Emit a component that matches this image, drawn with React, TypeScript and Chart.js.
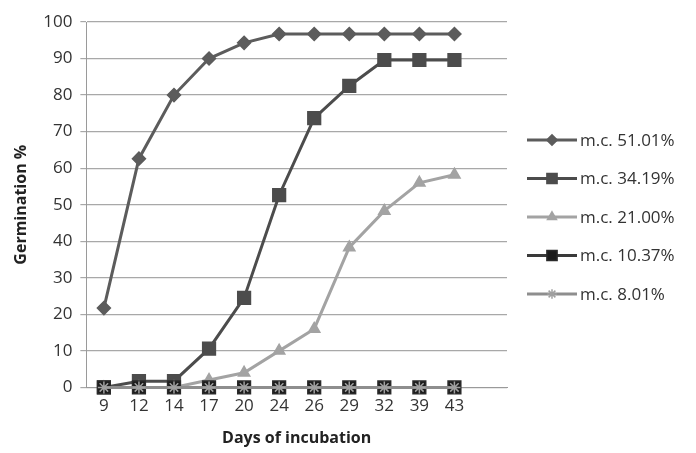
import React, { useEffect, useRef } from "react";
import { Chart, registerables } from "chart.js";
import { drawPoint } from "chart.js/helpers";

Chart.register(...registerables);

const days = ["9", "12", "14", "17", "20", "24", "26", "29", "32", "39", "43", ""];
const seriesNames = ["m.c. 51.01%", "m.c. 34.19%", "m.c. 21.00%", "m.c. 10.37%", "m.c. 8.01%"];
const mc5101 = [21.7, 62.6, 80, 90, 94.3, 96.7, 96.7, 96.7, 96.7, 96.7, 96.7];
const mc3419 = [0, 1.7, 1.7, 10.6, 24.5, 52.6, 73.7, 82.5, 89.6, 89.6, 89.6];
const mc2100 = [0, 0, 0, 2, 4, 10, 16, 38.3, 48.3, 56, 58.2];
const mc1037 = [0, 0, 0, 0, 0, 0, 0, 0, 0, 0, 0];
const mc0801 = [0, 0, 0, 0, 0, 0, 0, 0, 0, 0, 0];
const yTicks = [0, 10, 20, 30, 40, 50, 60, 70, 80, 90, 100];

const FONT = "'Open Sans', Lato, sans-serif";

export default function App() {
  const ref = useRef<HTMLCanvasElement | null>(null);
  useEffect(() => {
    document.body.style.margin = "0";
    const ctx = ref.current!;
    const styles = [
      { data: mc5101, color: "#5c5c5c", point: "rectRot", r: 6.5, fill: "#5c5c5c", bc: "#5c5c5c" },
      { data: mc3419, color: "#4c4c4c", point: "rect", r: 9, fill: "#4c4c4c", bc: "#4c4c4c" },
      { data: mc2100, color: "#a3a3a3", point: "triangle", r: 6.5, fill: "#a3a3a3", bc: "#a3a3a3" },
      { data: mc1037, color: "#3a3a3a", point: "rect", r: 9, fill: "#1c1c1c", bc: "#2a2a2a" },
      { data: mc0801, color: "#8e8e8e", point: "star", r: 6, fill: "#9a9a9a", bc: "#a0a0a0" },
    ];
    const legendPlugin = {
      id: "customLegend",
      afterDraw(chart: any) {
        const c = chart.ctx;
        c.save();
        chart.data.datasets.forEach((ds: any, i: number) => {
          const y = 140 + i * 38.5;
          c.strokeStyle = ds.borderColor;
          c.lineWidth = 3;
          c.beginPath();
          c.moveTo(527, y);
          c.lineTo(577, y);
          c.stroke();
          c.fillStyle = ds.pointBackgroundColor;
          c.strokeStyle = ds.pointBorderColor;
          c.lineWidth = 1.5;
          drawPoint(c, { pointStyle: ds.pointStyle, radius: ds.pointRadius * 0.8, rotation: 0, borderWidth: 1.5 } as any, 552, y);
          c.fillStyle = "#333333";
          c.font = `17px ${FONT}`;
          c.textBaseline = "middle";
          c.textAlign = "left";
          c.fillText(ds.label, 580, y + 1);
        });
        c.restore();
      },
    };
    const chart = new Chart(ctx, {
      type: "line",
      data: {
        labels: days,
        datasets: styles.map((s, i) => ({
          label: seriesNames[i],
          data: s.data,
          borderColor: s.color,
          backgroundColor: s.fill,
          pointBackgroundColor: s.fill,
          pointBorderColor: s.bc,
          pointBorderWidth: 1.5,
          pointStyle: s.point as any,
          pointRadius: s.r,
          borderWidth: 3,
          tension: 0,
          clip: false as any,
          order: 4 - i,
        })),
      },
      options: {
        animation: false,
        responsive: false,
        layout: { padding: { top: 22, right: 189, left: 12, bottom: 5 } },
        plugins: { legend: { display: false }, tooltip: { enabled: false } },
        scales: {
          x: {
            offset: true,
            grid: { display: false, drawTicks: false },
            border: { display: true, color: "#9a9a9a", width: 1 },
            ticks: { font: { family: FONT, size: 17 }, color: "#333", padding: 9, autoSkip: false, maxRotation: 0 },
            title: { display: true, text: "Days of incubation", font: { family: FONT, size: 16, weight: "bold" }, color: "#222", padding: { top: 3, bottom: 0 } },
          },
          y: {
            min: 0,
            max: 100,
            afterBuildTicks: (axis: any) => {
              axis.ticks = yTicks.map((v) => ({ value: v }));
            },
            grid: { color: "#a8a8a8", lineWidth: 1.2, tickLength: 6 },
            border: { display: true, color: "#9a9a9a", width: 1 },
            ticks: { font: { family: FONT, size: 17 }, color: "#333", padding: 8 },
            title: { display: true, text: "Germination %", font: { family: FONT, size: 16, weight: "bold" }, color: "#222", padding: { top: 0, bottom: 4 } },
          },
        },
      },
      plugins: [legendPlugin],
    });
    return () => chart.destroy();
  }, []);
  return (
    <div style={{ position: "absolute", left: 0, top: 0, width: 696, height: 453, background: "#fff" }}>
      <canvas ref={ref} width={696} height={453} style={{ width: 696, height: 453 }} />
    </div>
  );
}
